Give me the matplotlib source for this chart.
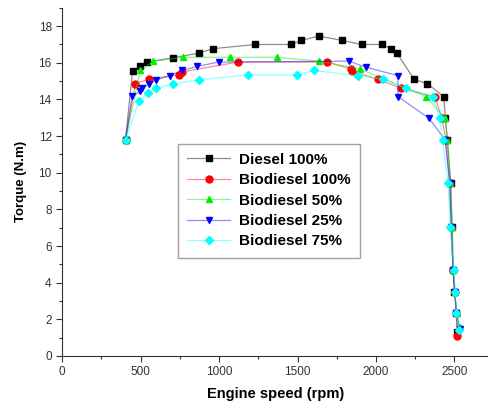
import numpy as np
import matplotlib
matplotlib.use('Agg')
import matplotlib.pyplot as plt
from matplotlib.ticker import MultipleLocator
from matplotlib.colors import to_rgba

plt.rcParams['font.family'] = ['Liberation Sans', 'DejaVu Sans']

# engine speed (rpm) / torque (N.m) for each fuel
diesel_x = [404, 449, 499, 541, 707, 872, 961, 1232, 1457, 1525, 1635, 1785, 1910, 2040, 2095, 2133,
            2243, 2326, 2432, 2442, 2455, 2476, 2485, 2491, 2500, 2512, 2519]
diesel_y = [11.8, 15.55, 15.8, 16.04, 16.27, 16.53, 16.77, 17.0, 17.0, 17.22, 17.46, 17.22, 17.0, 17.0, 16.77, 16.53,
            15.1, 14.87, 14.15, 12.97, 11.8, 9.44, 7.05, 4.7, 3.5, 2.34, 1.3]

bio100_x = [404, 467, 556, 742, 764, 1118, 1686, 1840, 1845, 2014, 2162, 2375, 2420, 2445, 2470, 2480, 2491, 2502, 2512, 2516]
bio100_y = [11.8, 14.85, 15.12, 15.34, 15.5, 16.04, 16.04, 15.67, 15.55, 15.1, 14.6, 14.15, 12.97, 11.8, 9.42, 7.05, 4.7, 3.5, 2.34, 1.1]

bio50_x = [404, 499, 580, 768, 1071, 1368, 1639, 1898, 2321, 2440, 2455, 2474, 2485, 2493, 2503, 2514, 2533]
bio50_y = [11.8, 15.58, 16.08, 16.3, 16.3, 16.3, 16.09, 15.67, 14.15, 12.97, 11.8, 9.42, 7.05, 4.7, 3.5, 2.34, 1.6]

bio25_x = [404, 446, 499, 510, 552, 601, 685, 764, 859, 997, 1828, 1936, 2139, 2141, 2338, 2440, 2470, 2478,
           2491, 2502, 2512, 2533]
bio25_y = [11.8, 14.17, 14.44, 14.6, 14.85, 15.07, 15.3, 15.58, 15.8, 16.04, 16.09, 15.76, 15.3, 14.15, 12.97, 11.8, 9.42, 7.05,
           4.7, 3.5, 2.34, 1.45]

bio75_x = [404, 490, 546, 601, 707, 872, 1184, 1495, 1605, 1887, 2046, 2193, 2364, 2406, 2424, 2459, 2474, 2495,
           2505, 2512, 2527]
bio75_y = [11.8, 13.9, 14.36, 14.6, 14.85, 15.07, 15.34, 15.34, 15.58, 15.3, 15.1, 14.6, 14.15, 12.97, 11.8, 9.42, 7.05, 4.7,
           3.5, 2.34, 1.42]

series = [
    ('Diesel 100%', diesel_x, diesel_y, '#000000', 's'),
    ('Biodiesel 100%', bio100_x, bio100_y, '#ff0000', 'o'),
    ('Biodiesel 50%', bio50_x, bio50_y, '#00ee00', '^'),
    ('Biodiesel 25%', bio25_x, bio25_y, '#0000ff', 'v'),
    ('Biodiesel 75%', bio75_x, bio75_y, '#00ffff', 'D'),
]

fig = plt.figure(figsize=(4.89, 4.12), dpi=100)
ax = fig.add_axes([0.127, 0.136, 0.873, 0.845])

for name, xs, ys, c, m in series:
    ms = 4.2 if m == 'D' else 5
    ax.plot(xs, ys, color=to_rgba(c, 0.45), lw=0.9, marker=m, ms=ms,
            markerfacecolor=c, markeredgecolor=c, label=name)

ax.set_xlim(0, 2720)
ax.set_ylim(0, 19)
ax.xaxis.set_major_locator(MultipleLocator(500))
ax.xaxis.set_minor_locator(MultipleLocator(250))
ax.yaxis.set_major_locator(MultipleLocator(2))
ax.yaxis.set_minor_locator(MultipleLocator(1))
ax.tick_params(which='major', length=4, width=0.8, labelsize=8.5, labelcolor='#333333', color='#333333')
ax.tick_params(which='minor', length=2.5, width=0.8, color='#333333')

ax.spines['top'].set_visible(False)
ax.spines['right'].set_visible(False)
ax.spines['left'].set_color('#333333')
ax.spines['bottom'].set_color('#333333')

ax.set_xlabel('Engine speed (rpm)', fontsize=10.5, fontweight='bold', labelpad=6)
ax.set_ylabel('Torque (N.m)', fontsize=9.5, fontweight='bold', labelpad=8)

leg = ax.legend(loc='upper left', bbox_to_anchor=(0.254, 0.632), prop={'weight': 'bold', 'size': 11},
                frameon=True, fancybox=False, edgecolor='#888888', handlelength=2.8,
                labelspacing=0.42, borderpad=0.6, handletextpad=0.6)
leg.get_frame().set_linewidth(1.0)

plt.savefig('out.png', dpi=100)
